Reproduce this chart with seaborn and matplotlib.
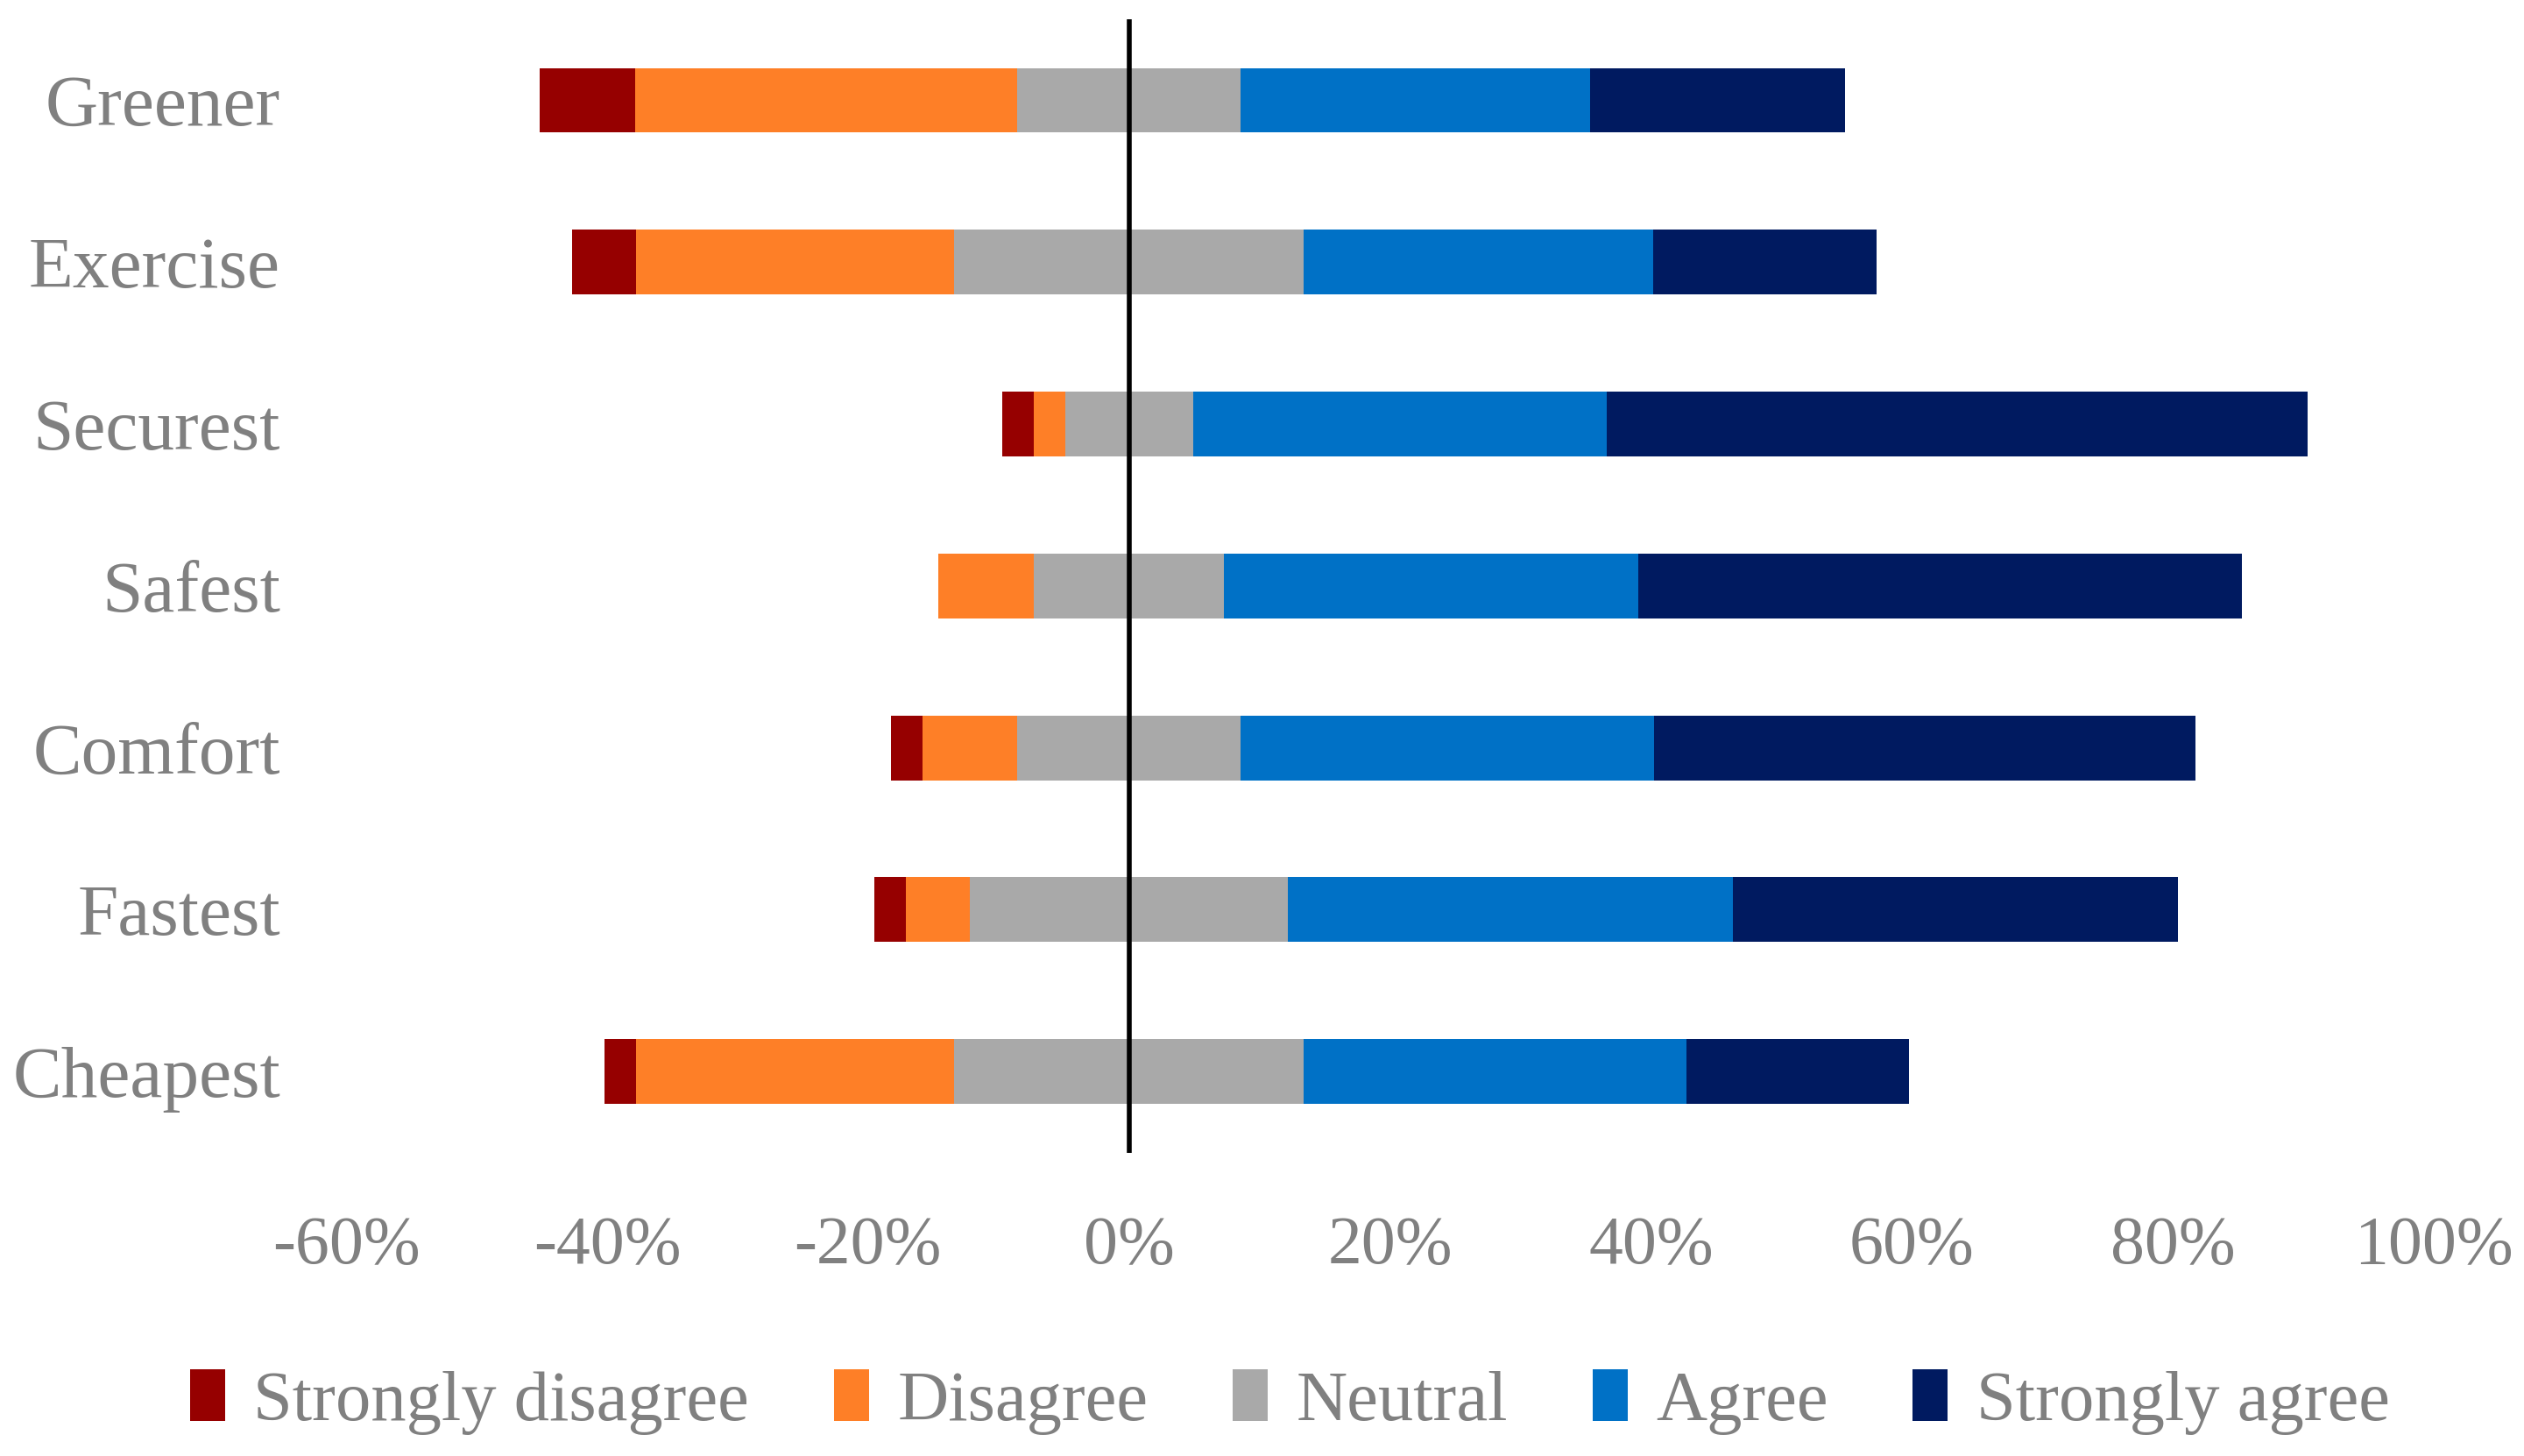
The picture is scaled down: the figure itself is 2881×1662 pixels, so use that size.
import matplotlib
matplotlib.use("Agg")
import matplotlib.pyplot as plt
from matplotlib.patches import Patch
from matplotlib.ticker import FuncFormatter
import seaborn as sns
import pandas as pd

# data (percent of respondents)
categories = ["Greener", "Exercise", "Securest", "Safest", "Comfort", "Fastest", "Cheapest"]
strongly_disagree = [7.3, 4.9, 2.4, 0.0, 2.4, 2.4, 2.4]
disagree = [29.3, 24.4, 2.4, 7.3, 7.3, 4.9, 24.4]
neutral = [17.1, 26.8, 9.8, 14.6, 17.1, 24.4, 26.8]
agree = [26.8, 26.8, 31.7, 31.7, 31.7, 34.1, 29.3]
strongly_agree = [19.5, 17.1, 53.7, 46.3, 41.5, 34.1, 17.1]

levels = ["Strongly disagree", "Disagree", "Neutral", "Agree", "Strongly agree"]
colors = ["#960000", "#FE7F27", "#A9A9A9", "#0071C6", "#001A60"]

df = pd.DataFrame({"cat": categories, "sd": strongly_disagree, "d": disagree,
                   "n": neutral, "a": agree, "sa": strongly_agree})
# cumulative extents from the zero line (neutral is split around 0)
df["r_n"] = df["n"] / 2
df["r_a"] = df["r_n"] + df["a"]
df["r_sa"] = df["r_a"] + df["sa"]
df["l_n"] = -df["n"] / 2
df["l_d"] = df["l_n"] - df["d"]
df["l_sd"] = df["l_d"] - df["sd"]

sns.set_style("white")
plt.rcParams["font.family"] = ["Liberation Serif", "DejaVu Serif"]
grey = "#808080"

fig = plt.figure(figsize=(14.405, 8.31), dpi=200)
ax = fig.add_axes([0.1371, 0.2084, 0.8272, 0.7783])

# draw outer layers first, inner layers on top
layers = [("r_sa", colors[4]), ("r_a", colors[3]), ("r_n", colors[2]),
          ("l_sd", colors[0]), ("l_d", colors[1]), ("l_n", colors[2])]
for col, c in layers:
    sns.barplot(data=df, x=col, y="cat", orient="h", color=c, width=0.4,
                saturation=1, errorbar=None, linewidth=0, ax=ax)

ax.axvline(0, color="black", lw=2, zorder=5)
ax.set_xlim(-60, 100)
ax.set_xticks(range(-60, 101, 20))
ax.xaxis.set_major_formatter(FuncFormatter(lambda v, p: f"{int(v)}%"))
ax.set_xlabel("")
ax.set_ylabel("")
ax.tick_params(axis="x", labelsize=28, colors=grey, length=0, pad=26)
ax.tick_params(axis="y", labelsize=30, colors=grey, length=0, pad=27)
for s in ax.spines.values():
    s.set_visible(False)

handles = [Patch(facecolor=c, edgecolor="none") for c in colors]
leg = fig.legend(handles, levels, loc="center", bbox_to_anchor=(0.511, 0.037),
                 ncol=5, frameon=False, fontsize=29, handlelength=0.5,
                 handleheight=0.75, handletextpad=0.4, columnspacing=1.2)
for t in leg.get_texts():
    t.set_color(grey)

fig.savefig("out.png", dpi=200)
